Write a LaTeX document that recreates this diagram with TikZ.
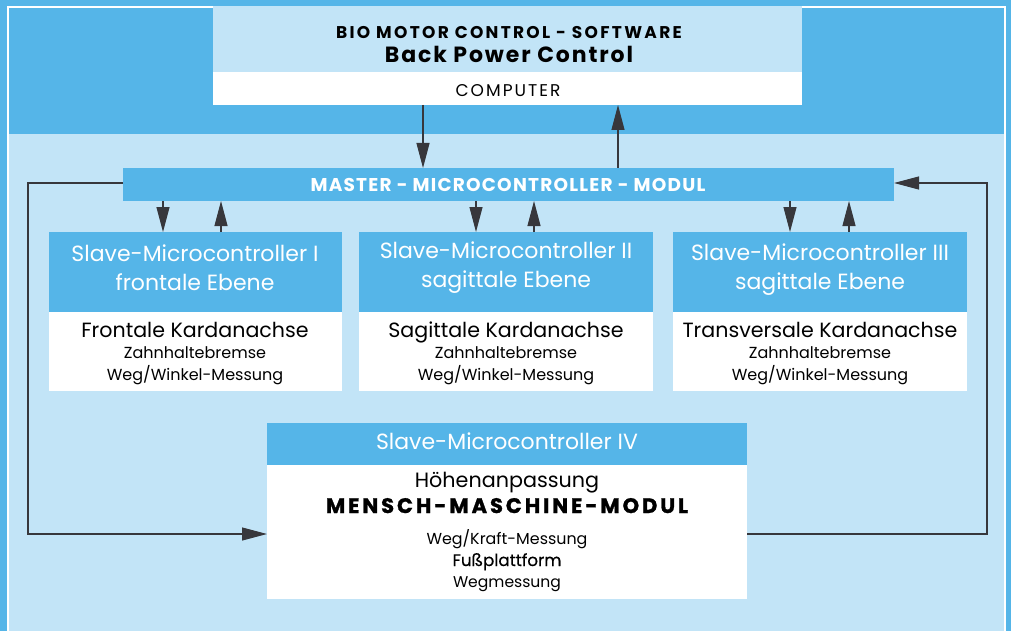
\documentclass[tikz,border=0pt]{standalone}
\usepackage{fontspec}
\setmainfont{Poppins}
\newfontfamily\medfont{Poppins}[FakeBold=0.4]
\newfontfamily\bioF{Poppins}[LetterSpace=13.5]
\newfontfamily\backF{Poppins}[LetterSpace=8.6]
\newfontfamily\compF{Poppins}[LetterSpace=12]
\newfontfamily\mastF{Poppins}[LetterSpace=6.6]
\newfontfamily\menF{Poppins}[LetterSpace=14,BoldFeatures={FakeBold=1.2}]
\usetikzlibrary{arrows.meta}
\definecolor{fblue}{RGB}{85,181,232}
\definecolor{flight}{RGB}{194,228,247}
\definecolor{fline}{RGB}{55,55,60}
\newcommand{\fs}[1]{\fontsize{#1}{#1}\selectfont}
\begin{document}
\begin{tikzpicture}[x=1pt,y=-1pt,
  box/.style={draw=none,inner sep=0pt,outer sep=0pt,anchor=north west},
  txt/.style={inner sep=0pt,anchor=base},
  wtxt/.style={txt,text=white},
  arr/.style={draw=fline,line width=1.1pt,-{Triangle[length=25pt,width=13pt]}},
  ln/.style={draw=fline,line width=1.1pt}]
% background frame
\useasboundingbox (0,0) rectangle (1011,631);
\fill[fblue] (0,0) rectangle (1011,631);
\fill[white] (7,6) rectangle (1006,631);
\fill[flight] (9,8) rectangle (1004,631);
\fill[fblue] (9,8) rectangle (1004,134);
% top box
\node[box,fill=flight,minimum width=589pt,minimum height=66pt] (toph) at (213,6) {};
\node[box,fill=white,minimum width=589pt,minimum height=33pt] (topc) at (213,72) {};
\node[txt] (t1) at (509,39) {\fs{17}\bioF\bfseries BIO MOTOR CONTROL - SOFTWARE};
\node[txt] (t2) at (509,63) {\fs{22}\backF\bfseries Back Power Control};
\node[txt] (t3) at (508,97) {\fs{17}\compF COMPUTER};
% master
\node[box,fill=fblue,minimum width=771pt,minimum height=33pt] (master) at (123,168) {};
\node[wtxt] (mt) at (508,192) {\fs{18.5}\mastF\bfseries MASTER - MICROCONTROLLER - MODUL};
% slaves
\node[box,fill=fblue,minimum width=293pt,minimum height=80pt] (s1h) at (49,232) {};
\node[box,fill=white,minimum width=293pt,minimum height=79pt] (s1b) at (49,312) {};
\node[box,fill=fblue,minimum width=294pt,minimum height=80pt] (s2h) at (359,232) {};
\node[box,fill=white,minimum width=294pt,minimum height=79pt] (s2b) at (359,312) {};
\node[box,fill=fblue,minimum width=294pt,minimum height=80pt] (s3h) at (673,232) {};
\node[box,fill=white,minimum width=294pt,minimum height=79pt] (s3b) at (673,312) {};
% slave texts
\node[wtxt] (s1t1) at (195,261) {\fs{22}Slave-Microcontroller I};
\node[wtxt] (s1t2) at (195,290) {\fs{22}frontale Ebene};
\node[txt] (s1t3) at (195,337) {\fs{20.6}Frontale Kardanachse};
\node[txt] (s1t4) at (195,358) {\fs{16}Zahnhaltebremse};
\node[txt] (s1t5) at (195,380) {\fs{16}Weg/Winkel-Messung};
\node[wtxt] (s2t1) at (506,258) {\fs{22}Slave-Microcontroller II};
\node[wtxt] (s2t2) at (506,287) {\fs{22}sagittale Ebene};
\node[txt] (s2t3) at (506,337) {\fs{20.6}Sagittale Kardanachse};
\node[txt] (s2t4) at (506,358) {\fs{16}Zahnhaltebremse};
\node[txt] (s2t5) at (506,380) {\fs{16}Weg/Winkel-Messung};
\node[wtxt] (s3t1) at (820,260) {\fs{22}Slave-Microcontroller III};
\node[wtxt] (s3t2) at (820,289) {\fs{22}sagittale Ebene};
\node[txt] (s3t3) at (820,337) {\fs{20.6}Transversale Kardanachse};
\node[txt] (s3t4) at (820,358) {\fs{16}Zahnhaltebremse};
\node[txt] (s3t5) at (820,380) {\fs{16}Weg/Winkel-Messung};
% slave IV
\node[box,fill=fblue,minimum width=480pt,minimum height=42pt] (s4h) at (267,423) {};
\node[box,fill=white,minimum width=480pt,minimum height=134pt] (s4b) at (267,465) {};
\node[wtxt] (s4t1) at (507,449) {\fs{22}Slave-Microcontroller IV};
\node[txt] (s4t2) at (507,487) {\fs{20.7}Höhenanpassung};
\node[txt] (s4t3) at (507,513) {\fs{21}\menF\bfseries MENSCH-MASCHINE-MODUL};
\node[txt] (s4t4) at (507,544) {\fs{15.9}Weg/Kraft-Messung};
\node[txt] (s4t5) at (507,566) {\fs{16.7}\medfont Fußplattform};
\node[txt] (s4t6) at (507,587) {\fs{15.6}Wegmessung};
% arrows computer <-> master
\draw[arr] (423,0 |- topc.south) -- (423,0 |- master.north);
\draw[arr] (618,0 |- master.north) -- (618,0 |- topc.south);
% master <-> slaves
\draw[arr] (163,0 |- master.south) -- (163,0 |- s1h.north);
\draw[arr] (221,0 |- s1h.north) -- (221,0 |- master.south);
\draw[arr] (476,0 |- master.south) -- (476,0 |- s2h.north);
\draw[arr] (534,0 |- s2h.north) -- (534,0 |- master.south);
\draw[arr] (790,0 |- master.south) -- (790,0 |- s3h.north);
\draw[arr] (849,0 |- s3h.north) -- (849,0 |- master.south);
% feedback loops
\draw[arr] (master.west |- 0,183) -- (28,183) -- (28,534) -- (s4b.west |- 0,534);
\draw[arr] (s4b.east |- 0,534) -- (987,534) -- (987,183) -- (master.east |- 0,183);
\end{tikzpicture}
\end{document}
